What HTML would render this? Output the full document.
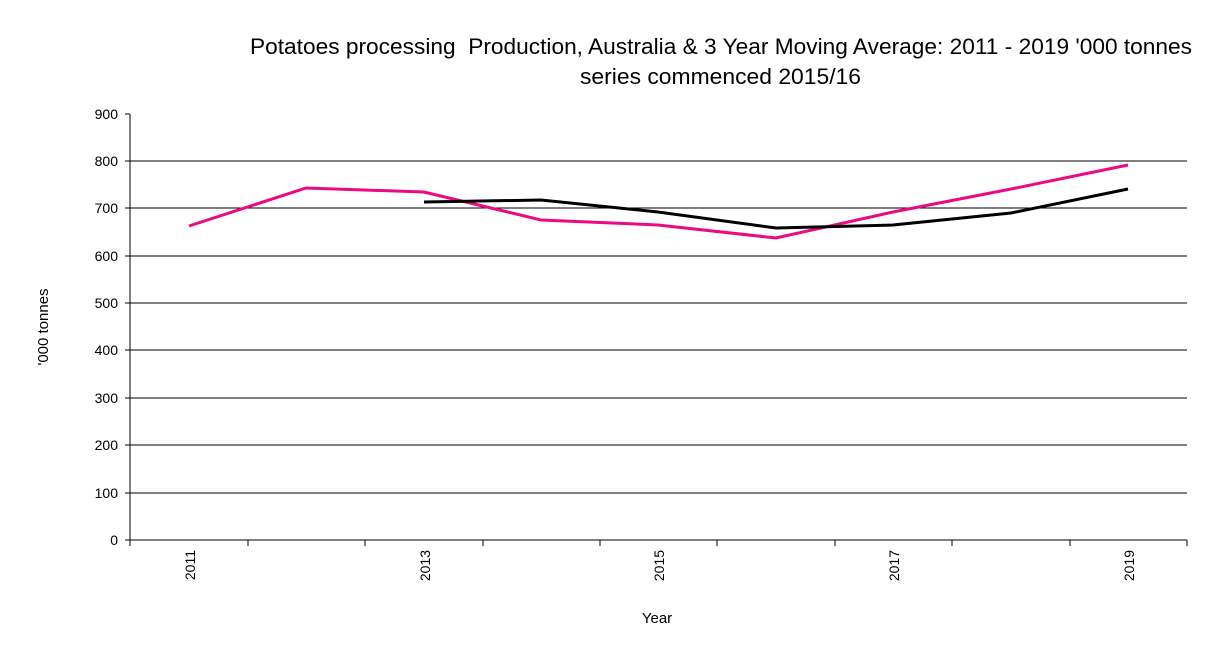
<!DOCTYPE html>
<html><head><meta charset="utf-8"><style>
body{margin:0;background:#fff;}
svg{display:block;font-family:"Liberation Sans",Arial,sans-serif;}
</style></head><body>
<svg width="1212" height="672" viewBox="0 0 1212 672" xmlns="http://www.w3.org/2000/svg">
<rect width="1212" height="672" fill="#fff"/>
<text x="250" y="54" font-size="22" textLength="942" lengthAdjust="spacingAndGlyphs" xml:space="preserve" fill="#000">Potatoes processing  Production, Australia &amp; 3 Year Moving Average: 2011 - 2019 '000 tonnes</text>
<text x="580" y="84" font-size="22" textLength="281" lengthAdjust="spacingAndGlyphs" fill="#000">series commenced 2015/16</text>
<g stroke="#000" stroke-width="1">
<line x1="130" y1="161" x2="1187" y2="161"/>
<line x1="130" y1="208" x2="1187" y2="208"/>
<line x1="130" y1="256" x2="1187" y2="256"/>
<line x1="130" y1="303" x2="1187" y2="303"/>
<line x1="130" y1="350" x2="1187" y2="350"/>
<line x1="130" y1="398" x2="1187" y2="398"/>
<line x1="130" y1="445" x2="1187" y2="445"/>
<line x1="130" y1="493" x2="1187" y2="493"/>
<line x1="130" y1="540" x2="1187" y2="540"/>
<line x1="130" y1="114" x2="130" y2="540"/>
<line x1="125" y1="114" x2="130" y2="114"/><line x1="125" y1="161" x2="130" y2="161"/><line x1="125" y1="208" x2="130" y2="208"/><line x1="125" y1="256" x2="130" y2="256"/><line x1="125" y1="303" x2="130" y2="303"/><line x1="125" y1="350" x2="130" y2="350"/><line x1="125" y1="398" x2="130" y2="398"/><line x1="125" y1="445" x2="130" y2="445"/><line x1="125" y1="493" x2="130" y2="493"/><line x1="125" y1="540" x2="130" y2="540"/>
<line x1="248" y1="540" x2="248" y2="546"/><line x1="365" y1="540" x2="365" y2="546"/><line x1="483" y1="540" x2="483" y2="546"/><line x1="600" y1="540" x2="600" y2="546"/><line x1="717" y1="540" x2="717" y2="546"/><line x1="835" y1="540" x2="835" y2="546"/><line x1="952" y1="540" x2="952" y2="546"/><line x1="1070" y1="540" x2="1070" y2="546"/><line x1="1187" y1="540" x2="1187" y2="546"/><line x1="130" y1="540" x2="130" y2="546"/>
</g>
<g font-size="14" text-anchor="end" fill="#000">
<text x="118" y="119">900</text><text x="118" y="166">800</text><text x="118" y="213">700</text><text x="118" y="261">600</text><text x="118" y="308">500</text><text x="118" y="355">400</text><text x="118" y="403">300</text><text x="118" y="450">200</text><text x="118" y="498">100</text><text x="118" y="545">0</text>
</g>
<g font-size="14" text-anchor="end" fill="#000">
<text transform="translate(195,550) rotate(-90)">2011</text>
<text transform="translate(430,550) rotate(-90)">2013</text>
<text transform="translate(664,550) rotate(-90)">2015</text>
<text transform="translate(899,550) rotate(-90)">2017</text>
<text transform="translate(1134,550) rotate(-90)">2019</text>
</g>
<text x="657" y="623" font-size="15" text-anchor="middle">Year</text>
<text transform="translate(48,327) rotate(-90)" font-size="15" text-anchor="middle">'000 tonnes</text>
<polyline fill="none" stroke="#ec0a82" stroke-width="3" points="189,226 306,188 424,192 541,220 658,225 776,238 893,212 1011,189 1128,165"/>
<polyline fill="none" stroke="#000" stroke-width="3" points="424,202 541,200 658,212 776,228 893,225 1011,213 1128,189"/>
</svg>
</body></html>
